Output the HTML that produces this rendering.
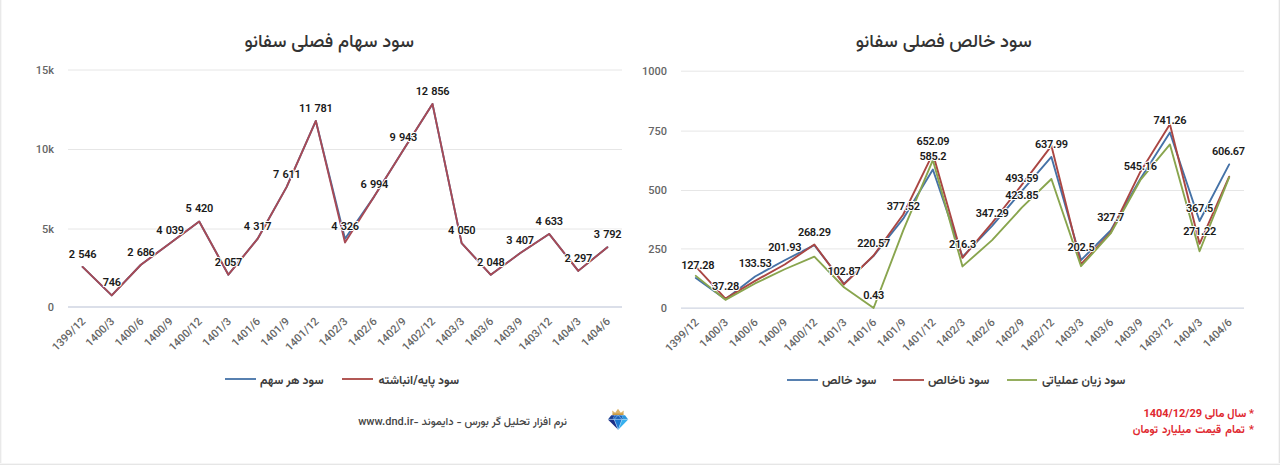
<!DOCTYPE html>
<html><head><meta charset="utf-8"><title>سود فصلی سفانو</title>
<style>
html,body{margin:0;padding:0;background:#fff;}
body{width:1280px;height:465px;position:relative;overflow:hidden;font-family:Vazirmatn, Roboto, 'Liberation Sans', 'DejaVu Sans', sans-serif;}
svg{position:absolute;left:0;top:0;}
svg text{font-family:Vazirmatn, Roboto, 'Liberation Sans', 'DejaVu Sans', sans-serif;}
.dl{font-size:11px;font-weight:600;letter-spacing:-0.3px;word-spacing:1px;fill:#1a1a1a;stroke:#fff;stroke-width:2px;stroke-linejoin:round;paint-order:stroke;text-anchor:middle;}
.xl{font-size:11px;font-weight:500;fill:#666;text-anchor:end;}
.yl{font-size:11px;font-weight:500;fill:#666;text-anchor:end;}
.t{position:absolute;white-space:nowrap;direction:rtl;line-height:1;}
.title{font-size:18.3px;font-weight:500;color:#333;width:300px;text-align:center;}
.lg{font-size:12px;font-weight:bold;color:#3c3c3c;line-height:1;}
.legend{position:absolute;display:flex;direction:ltr;white-space:nowrap;line-height:1;}
.li{display:flex;align-items:flex-start;}
.sym{display:block;height:2px;opacity:0.9;flex:none;}
.lg{display:block;direction:rtl;}
.note{font-size:11px;font-weight:bold;color:#e0282f;}
.foot{font-size:11px;font-weight:500;color:#444;}
.bl{position:absolute;left:0;top:0;width:2px;height:465px;background:linear-gradient(90deg,#e9e9e9 50%,#f7f7f7 50%);}
.br{position:absolute;right:0;top:0;width:2px;height:465px;background:linear-gradient(90deg,#f6f6f6 50%,#e3e3e3 50%);}
.bb{position:absolute;left:0;bottom:0;width:1280px;height:2px;background:linear-gradient(180deg,#f6f6f6 50%,#e6e6e6 50%);}
</style></head><body>
<svg width="1280" height="465" viewBox="0 0 1280 465">
<line x1="68" x2="622" y1="70.0" y2="70.0" stroke="#e6e6e6" stroke-width="1"/>
<line x1="68" x2="622" y1="149.5" y2="149.5" stroke="#e6e6e6" stroke-width="1"/>
<line x1="68" x2="622" y1="229.0" y2="229.0" stroke="#e6e6e6" stroke-width="1"/>
<line x1="68" x2="622" y1="307" y2="307" stroke="#cfd5e2" stroke-width="1.3"/>
<text class="yl" x="54" y="73.8">15k</text>
<text class="yl" x="54" y="153.3">10k</text>
<text class="yl" x="54" y="232.8">5k</text>
<text class="yl" x="54" y="310.8">0</text>
<line x1="681" x2="1244" y1="71.2" y2="71.2" stroke="#e6e6e6" stroke-width="1"/>
<line x1="681" x2="1244" y1="131.1" y2="131.1" stroke="#e6e6e6" stroke-width="1"/>
<line x1="681" x2="1244" y1="190.5" y2="190.5" stroke="#e6e6e6" stroke-width="1"/>
<line x1="681" x2="1244" y1="248.9" y2="248.9" stroke="#e6e6e6" stroke-width="1"/>
<line x1="681" x2="1244" y1="308.1" y2="308.1" stroke="#cfd5e2" stroke-width="1.3"/>
<text class="yl" x="667" y="75.0">1000</text>
<text class="yl" x="667" y="134.9">750</text>
<text class="yl" x="667" y="194.3">500</text>
<text class="yl" x="667" y="252.7">250</text>
<text class="yl" x="667" y="311.9">0</text>
<text class="xl" x="86.08" y="322.0" transform="rotate(-45 86.08 322.0)">1399/12</text>
<text class="xl" x="115.24" y="322.0" transform="rotate(-45 115.24 322.0)">1400/3</text>
<text class="xl" x="144.39" y="322.0" transform="rotate(-45 144.39 322.0)">1400/6</text>
<text class="xl" x="173.55" y="322.0" transform="rotate(-45 173.55 322.0)">1400/9</text>
<text class="xl" x="202.71" y="322.0" transform="rotate(-45 202.71 322.0)">1400/12</text>
<text class="xl" x="231.87" y="322.0" transform="rotate(-45 231.87 322.0)">1401/3</text>
<text class="xl" x="261.03" y="322.0" transform="rotate(-45 261.03 322.0)">1401/6</text>
<text class="xl" x="290.18" y="322.0" transform="rotate(-45 290.18 322.0)">1401/9</text>
<text class="xl" x="319.34" y="322.0" transform="rotate(-45 319.34 322.0)">1401/12</text>
<text class="xl" x="348.50" y="322.0" transform="rotate(-45 348.50 322.0)">1402/3</text>
<text class="xl" x="377.66" y="322.0" transform="rotate(-45 377.66 322.0)">1402/6</text>
<text class="xl" x="406.82" y="322.0" transform="rotate(-45 406.82 322.0)">1402/9</text>
<text class="xl" x="435.97" y="322.0" transform="rotate(-45 435.97 322.0)">1402/12</text>
<text class="xl" x="465.13" y="322.0" transform="rotate(-45 465.13 322.0)">1403/3</text>
<text class="xl" x="494.29" y="322.0" transform="rotate(-45 494.29 322.0)">1403/6</text>
<text class="xl" x="523.45" y="322.0" transform="rotate(-45 523.45 322.0)">1403/9</text>
<text class="xl" x="552.61" y="322.0" transform="rotate(-45 552.61 322.0)">1403/12</text>
<text class="xl" x="581.76" y="322.0" transform="rotate(-45 581.76 322.0)">1404/3</text>
<text class="xl" x="610.92" y="322.0" transform="rotate(-45 610.92 322.0)">1404/6</text>
<text class="xl" x="699.32" y="323.0" transform="rotate(-45 699.32 323.0)">1399/12</text>
<text class="xl" x="728.95" y="323.0" transform="rotate(-45 728.95 323.0)">1400/3</text>
<text class="xl" x="758.58" y="323.0" transform="rotate(-45 758.58 323.0)">1400/6</text>
<text class="xl" x="788.21" y="323.0" transform="rotate(-45 788.21 323.0)">1400/9</text>
<text class="xl" x="817.84" y="323.0" transform="rotate(-45 817.84 323.0)">1400/12</text>
<text class="xl" x="847.47" y="323.0" transform="rotate(-45 847.47 323.0)">1401/3</text>
<text class="xl" x="877.11" y="323.0" transform="rotate(-45 877.11 323.0)">1401/6</text>
<text class="xl" x="906.74" y="323.0" transform="rotate(-45 906.74 323.0)">1401/9</text>
<text class="xl" x="936.37" y="323.0" transform="rotate(-45 936.37 323.0)">1401/12</text>
<text class="xl" x="966.00" y="323.0" transform="rotate(-45 966.00 323.0)">1402/3</text>
<text class="xl" x="995.63" y="323.0" transform="rotate(-45 995.63 323.0)">1402/6</text>
<text class="xl" x="1025.26" y="323.0" transform="rotate(-45 1025.26 323.0)">1402/9</text>
<text class="xl" x="1054.89" y="323.0" transform="rotate(-45 1054.89 323.0)">1402/12</text>
<text class="xl" x="1084.53" y="323.0" transform="rotate(-45 1084.53 323.0)">1403/3</text>
<text class="xl" x="1114.16" y="323.0" transform="rotate(-45 1114.16 323.0)">1403/6</text>
<text class="xl" x="1143.79" y="323.0" transform="rotate(-45 1143.79 323.0)">1403/9</text>
<text class="xl" x="1173.42" y="323.0" transform="rotate(-45 1173.42 323.0)">1403/12</text>
<text class="xl" x="1203.05" y="323.0" transform="rotate(-45 1203.05 323.0)">1404/3</text>
<text class="xl" x="1232.68" y="323.0" transform="rotate(-45 1232.68 323.0)">1404/6</text>
<polyline points="82.58,266.94 111.74,295.40 140.89,264.73 170.05,243.33 199.21,221.49 228.37,274.67 257.53,238.93 286.68,186.84 315.84,120.90 345.00,238.79 374.16,196.60 403.32,149.97 432.47,103.90 461.63,243.16 490.79,274.81 519.95,253.32 549.11,233.94 578.26,270.88 607.42,247.24" fill="none" stroke="#4572A7" stroke-width="1.9" stroke-linejoin="round" stroke-linecap="round"/>
<polyline points="82.58,266.94 111.74,295.40 140.89,264.73 170.05,243.33 199.21,221.49 228.37,274.67 257.53,238.93 286.68,186.84 315.84,120.90 345.00,242.52 374.16,196.60 403.32,149.97 432.47,103.90 461.63,243.16 490.79,274.81 519.95,253.32 549.11,233.94 578.26,270.88 607.42,247.24" fill="none" stroke="#A84A55" stroke-width="1.9" stroke-linejoin="round" stroke-linecap="round"/>
<polyline points="695.82,277.95 725.45,299.27 755.08,276.47 784.71,260.26 814.34,245.08 843.97,283.73 873.61,255.85 903.24,218.67 932.87,169.47 962.50,256.86 992.13,225.83 1021.76,191.17 1051.39,156.96 1081.03,260.13 1110.66,230.47 1140.29,178.95 1169.92,132.50 1199.55,221.04 1229.18,164.38" fill="none" stroke="#4572A7" stroke-width="1.9" stroke-linejoin="round" stroke-linecap="round"/>
<polyline points="695.82,266.64 725.45,298.62 755.08,280.86 784.71,264.51 814.34,244.54 843.97,284.41 873.61,255.51 903.24,214.52 932.87,153.62 962.50,257.88 992.13,222.82 1021.76,184.91 1051.39,145.82 1081.03,264.27 1110.66,232.53 1140.29,171.88 1169.92,124.27 1199.55,243.85 1229.18,176.62" fill="none" stroke="#AA4643" stroke-width="1.9" stroke-linejoin="round" stroke-linecap="round"/>
<polyline points="695.82,275.88 725.45,299.81 755.08,283.46 784.71,269.25 814.34,256.69 843.97,287.25 873.61,308.00 903.24,230.40 932.87,160.04 962.50,266.41 992.13,240.11 1021.76,207.69 1051.39,178.99 1081.03,266.17 1110.66,233.48 1140.29,180.17 1169.92,144.40 1199.55,251.24 1229.18,177.33" fill="none" stroke="#89A54E" stroke-width="1.9" stroke-linejoin="round" stroke-linecap="round"/>
<text class="dl" x="82.58" y="257.94">2 546</text>
<text class="dl" x="111.74" y="286.40">746</text>
<text class="dl" x="140.89" y="255.73">2 686</text>
<text class="dl" x="170.05" y="234.33">4 039</text>
<text class="dl" x="199.21" y="212.49">5 420</text>
<text class="dl" x="228.37" y="265.67">2 057</text>
<text class="dl" x="257.53" y="229.93">4 317</text>
<text class="dl" x="286.68" y="177.84">7 611</text>
<text class="dl" x="315.84" y="111.90">11 781</text>
<text class="dl" x="345.00" y="229.79">4 326</text>
<text class="dl" x="374.16" y="187.60">6 994</text>
<text class="dl" x="403.32" y="140.97">9 943</text>
<text class="dl" x="432.47" y="94.90">12 856</text>
<text class="dl" x="461.63" y="234.16">4 050</text>
<text class="dl" x="490.79" y="265.81">2 048</text>
<text class="dl" x="519.95" y="244.32">3 407</text>
<text class="dl" x="549.11" y="224.94">4 633</text>
<text class="dl" x="578.26" y="261.88">2 297</text>
<text class="dl" x="607.42" y="238.24">3 792</text>
<text class="dl" x="697.72" y="268.95">127.28</text>
<text class="dl" x="725.45" y="290.27">37.28</text>
<text class="dl" x="755.08" y="267.47">133.53</text>
<text class="dl" x="784.71" y="251.26">201.93</text>
<text class="dl" x="814.34" y="235.54">268.29</text>
<text class="dl" x="843.97" y="274.73">102.87</text>
<text class="dl" x="873.61" y="246.85">220.57</text>
<text class="dl" x="873.61" y="299.00">0.43</text>
<text class="dl" x="903.24" y="209.67">377.52</text>
<text class="dl" x="932.87" y="144.62">652.09</text>
<text class="dl" x="932.87" y="160.47">585.2</text>
<text class="dl" x="962.50" y="247.86">216.3</text>
<text class="dl" x="992.13" y="216.83">347.29</text>
<text class="dl" x="1021.76" y="182.17">493.59</text>
<text class="dl" x="1021.76" y="198.69">423.85</text>
<text class="dl" x="1051.39" y="147.96">637.99</text>
<text class="dl" x="1081.03" y="251.13">202.5</text>
<text class="dl" x="1110.66" y="221.47">327.7</text>
<text class="dl" x="1140.29" y="169.95">545.16</text>
<text class="dl" x="1169.92" y="123.50">741.26</text>
<text class="dl" x="1199.55" y="212.04">367.5</text>
<text class="dl" x="1199.55" y="234.85">271.22</text>
<text class="dl" x="1228.38" y="155.38">606.67</text>
<g transform="translate(604,406)">
<path d="M8.6 8.9 L8.2 4.6 L11.2 6.8 L14 2.8 L16.8 6.8 L19.8 4.6 L19.4 8.9 Z" fill="#dcb46a"/><path d="M8.6 8.9 L19.4 8.9 L19.3 7.6 L8.7 7.6 Z" fill="#c99a45"/>
<path d="M7.3 9.2 L10.6 9.2 L8.6 13.4 L3.9 13.4 Z" fill="#1d3f90"/>
<path d="M10.6 9.2 L17.6 9.2 L19.4 13.4 L8.6 13.4 Z" fill="#2166bd"/>
<path d="M17.6 9.2 L21 9.2 L24.2 13.4 L19.4 13.4 Z" fill="#2c96dd"/>
<path d="M14.1 9.2 L10.2 13.4 L18 13.4 Z" fill="#1c5fb6"/>
<path d="M3.9 13.4 L10.2 13.4 L14.2 23.8 Z" fill="#1a2d86"/>
<path d="M10.2 13.4 L18 13.4 L14.2 23.8 Z" fill="#1a78d2"/>
<path d="M18 13.4 L24.2 13.4 L14.2 23.8 Z" fill="#36b0ee"/>
<path d="M3.9 13.4 L24.2 13.4 M10.2 13.4 L14.2 23.8 M18 13.4 L14.2 23.8 M10.2 13.4 L14.1 9.2 L18 13.4" stroke="#b9dcf7" stroke-width="0.6" fill="none" opacity="0.9"/>
</g>
</svg>
<div class="t title" style="left:179.2px;top:34px">سود سهام فصلی سفانو</div>
<div class="t title" style="left:793.8px;top:34px">سود خالص فصلی سفانو</div>
<div class="legend" style="left:225px;top:374.5px"><span class="li" style="margin-right:18.5px"><i class="sym" style="width:31px;margin-top:3.5px;margin-right:4px;background:#4572A7"></i><span class="lg">سود هر سهم</span></span><span class="li" style="margin-right:0px"><i class="sym" style="width:31px;margin-top:3.5px;margin-right:5.5px;background:#AA4643"></i><span class="lg">سود پایه/انباشته</span></span></div>
<div class="legend" style="left:787px;top:374.5px"><span class="li" style="margin-right:16.5px"><i class="sym" style="width:31px;margin-top:4.4px;margin-right:4px;background:#4572A7"></i><span class="lg">سود خالص</span></span><span class="li" style="margin-right:17.7px"><i class="sym" style="width:31px;margin-top:4.4px;margin-right:4px;background:#AA4643"></i><span class="lg">سود ناخالص</span></span><span class="li" style="margin-right:0px"><i class="sym" style="width:30px;margin-top:4.4px;margin-right:5px;background:#89A54E"></i><span class="lg">سود زیان عملیاتی</span></span></div>
<div class="t foot" style="right:713px;top:417px;">نرم افزار تحلیل گر بورس - دایموند -www.dnd.ir</div>
<div class="t note" style="right:26px;top:409px;">* سال مالی 1404/12/29</div>
<div class="t note" style="right:26px;top:425px;word-spacing:1.4px;">* تمام قیمت میلیارد تومان</div>
<div class="bl"></div><div class="br"></div><div class="bb"></div>
</body></html>
